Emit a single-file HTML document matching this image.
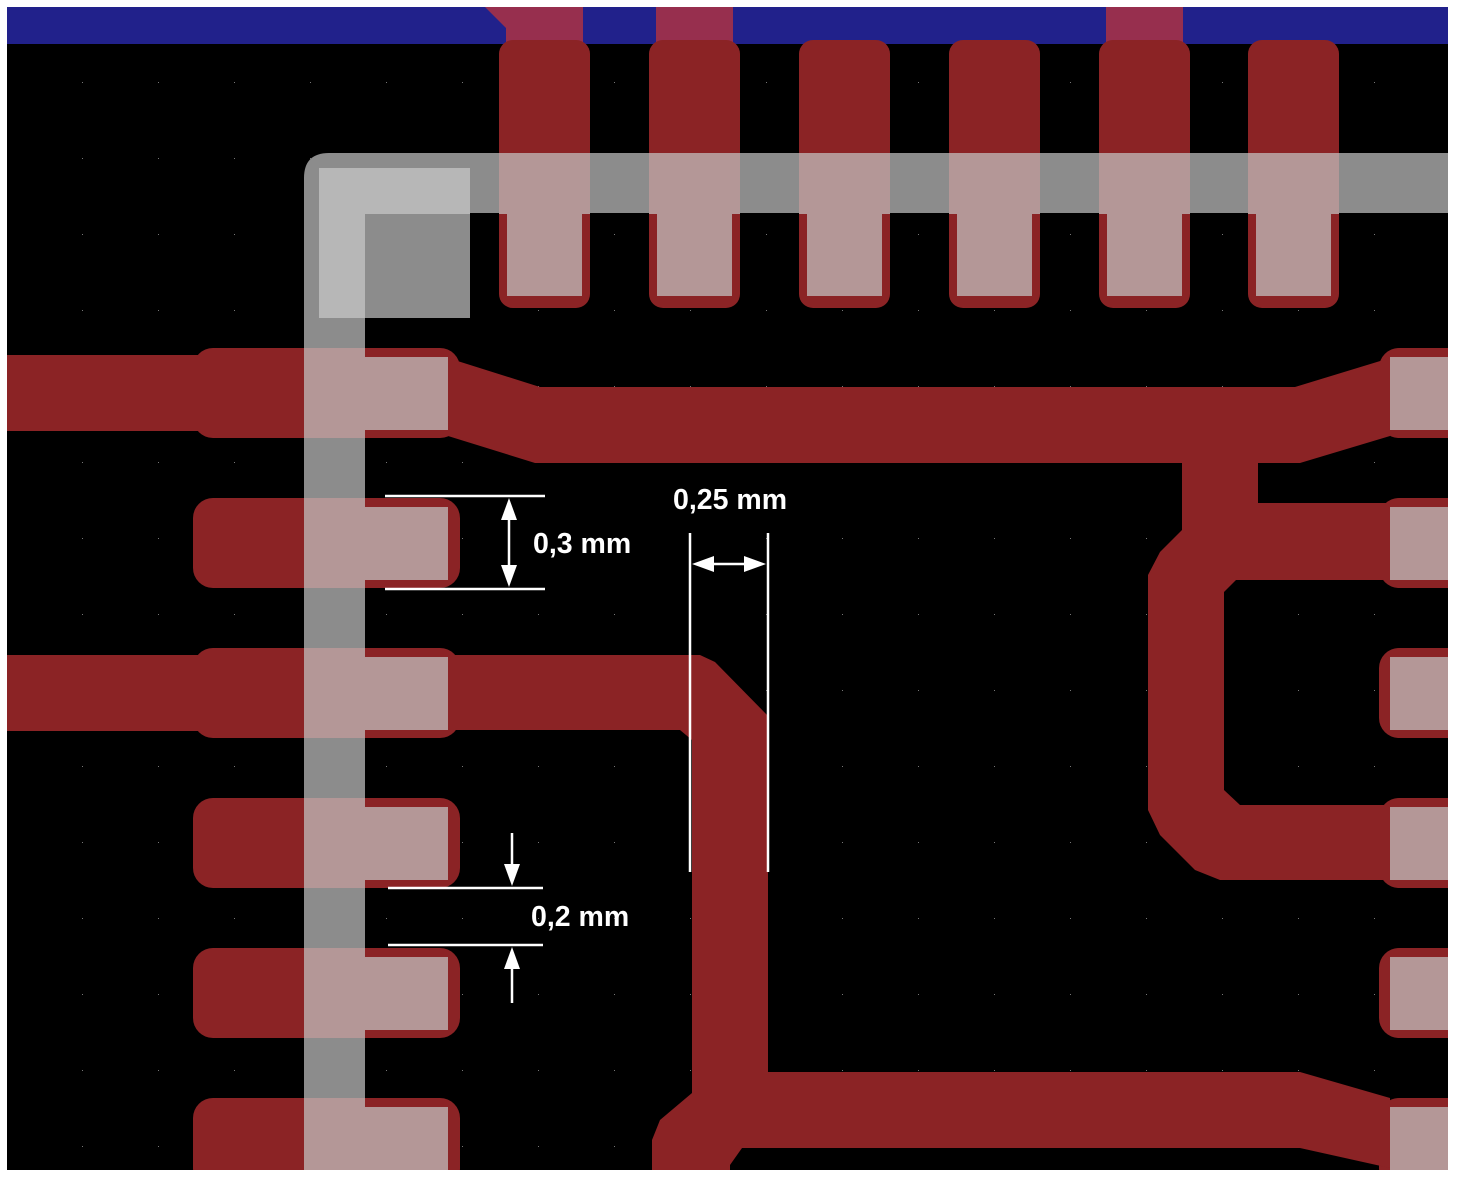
<!DOCTYPE html>
<html><head><meta charset="utf-8"><style>
html,body{margin:0;padding:0;background:#fff;}
svg{display:block;}
text{font-family:"Liberation Sans",sans-serif;font-weight:bold;font-size:28.5px;fill:#fff;}
</style></head><body>
<svg width="1458" height="1181" viewBox="0 0 1458 1181" xmlns="http://www.w3.org/2000/svg">
<defs>
<pattern id="g" x="6" y="6" width="76" height="76" patternUnits="userSpaceOnUse">
<rect x="0" y="0" width="1" height="1" fill="#777"/>
</pattern>
<clipPath id="c"><rect x="7" y="7" width="1441" height="1163"/></clipPath>
</defs>
<rect width="1458" height="1181" fill="#fff"/>
<g clip-path="url(#c)">
<rect x="7" y="7" width="1441" height="1163" fill="#000"/>
<rect x="7" y="7" width="1441" height="1163" fill="url(#g)"/>
<rect x="7" y="7" width="1441" height="37" fill="#21218B"/>
<polygon points="485,7 583,7 583,44 506,44 506,28" fill="#972F4E"/>
<rect x="656" y="7" width="77" height="37" fill="#972F4E"/>
<rect x="1106" y="7" width="77" height="37" fill="#972F4E"/>

<g fill="#8B2325">
<rect x="499" y="40" width="91" height="268" rx="14"/>
<rect x="649" y="40" width="91" height="268" rx="14"/>
<rect x="799" y="40" width="91" height="268" rx="14"/>
<rect x="949" y="40" width="91" height="268" rx="14"/>
<rect x="1099" y="40" width="91" height="268" rx="14"/>
<rect x="1248" y="40" width="91" height="268" rx="14"/>
<rect x="193" y="348" width="267" height="90" rx="20"/>
<rect x="193" y="498" width="267" height="90" rx="20"/>
<rect x="193" y="648" width="267" height="90" rx="20"/>
<rect x="193" y="798" width="267" height="90" rx="20"/>
<rect x="193" y="948" width="267" height="90" rx="20"/>
<rect x="193" y="1098" width="267" height="90" rx="20"/>
<rect x="7" y="355" width="200" height="76"/>
<rect x="7" y="655" width="200" height="76"/>
<rect x="1379" y="348" width="90" height="90" rx="20"/>
<rect x="1379" y="498" width="90" height="90" rx="20"/>
<rect x="1379" y="648" width="90" height="90" rx="20"/>
<rect x="1379" y="798" width="90" height="90" rx="20"/>
<rect x="1379" y="948" width="90" height="90" rx="20"/>
<rect x="1379" y="1098" width="90" height="90" rx="20"/>
<polygon points="448,358 540,387 1295,387 1390,358 1390,436 1300,463 535,463 448,436"/>
<rect x="1182" y="455" width="76" height="60"/>
<polygon points="1182,503 1390,503 1390,580 1236,580 1224,592 1224,790 1240,805 1390,805 1390,880 1220,880 1195,870 1160,835 1148,810 1148,575 1160,552 1182,530"/>
<polygon points="448,655 700,655 715,662 768,716 768,1072 1300,1072 1390,1098 1390,1168 1300,1148 742,1148 730,1165 730,1175 652,1175 652,1140 660,1120 692,1093 692,740 680,730 448,730"/>
</g>

<path d="M304,1175 L304,178 Q304,153 329,153 L1448,153 L1448,213 L365,213 L365,1175 Z" fill="#8C8C8C"/>
<rect x="365" y="213" width="105" height="105" fill="#8C8C8C"/>
<path d="M319,168 L470,168 L470,214 L365,214 L365,318 L319,318 Z" fill="#B7B7B7"/>

<g fill="#B49797">
<rect x="499" y="153" width="91" height="61"/><rect x="507" y="214" width="75" height="82"/>
<rect x="649" y="153" width="91" height="61"/><rect x="657" y="214" width="75" height="82"/>
<rect x="799" y="153" width="91" height="61"/><rect x="807" y="214" width="75" height="82"/>
<rect x="949" y="153" width="91" height="61"/><rect x="957" y="214" width="75" height="82"/>
<rect x="1099" y="153" width="91" height="61"/><rect x="1107" y="214" width="75" height="82"/>
<rect x="1248" y="153" width="91" height="61"/><rect x="1256" y="214" width="75" height="82"/>
<rect x="304" y="348" width="61" height="90"/><rect x="365" y="357" width="83" height="73"/>
<rect x="304" y="498" width="61" height="90"/><rect x="365" y="507" width="83" height="73"/>
<rect x="304" y="648" width="61" height="90"/><rect x="365" y="657" width="83" height="73"/>
<rect x="304" y="798" width="61" height="90"/><rect x="365" y="807" width="83" height="73"/>
<rect x="304" y="948" width="61" height="90"/><rect x="365" y="957" width="83" height="73"/>
<rect x="304" y="1098" width="61" height="90"/><rect x="365" y="1107" width="83" height="73"/>
<rect x="1390" y="357" width="58" height="73"/>
<rect x="1390" y="507" width="58" height="73"/>
<rect x="1390" y="657" width="58" height="73"/>
<rect x="1390" y="807" width="58" height="73"/>
<rect x="1390" y="957" width="58" height="73"/>
<rect x="1390" y="1107" width="58" height="73"/>
</g>

<g stroke="#fff" stroke-width="2.5" fill="none">
<line x1="385" y1="496" x2="545" y2="496"/>
<line x1="385" y1="589" x2="545" y2="589"/>
<line x1="509" y1="505" x2="509" y2="580"/>
<line x1="690" y1="533" x2="690" y2="872"/>
<line x1="768" y1="533" x2="768" y2="872"/>
<line x1="700" y1="564" x2="758" y2="564"/>
<line x1="388" y1="888" x2="543" y2="888"/>
<line x1="388" y1="945" x2="543" y2="945"/>
<line x1="512" y1="833" x2="512" y2="875"/>
<line x1="512" y1="958" x2="512" y2="1003"/>
</g>
<g fill="#fff">
<polygon points="509,498 501,520 517,520"/>
<polygon points="509,587 501,565 517,565"/>
<polygon points="692,564 714,556 714,572"/>
<polygon points="766,564 744,556 744,572"/>
<polygon points="512,886 504,864 520,864"/>
<polygon points="512,947 504,969 520,969"/>
</g>
<text x="533" y="553">0,3 mm</text>
<text x="673" y="509">0,25 mm</text>
<text x="531" y="926">0,2 mm</text>
</g>
</svg>
</body></html>
